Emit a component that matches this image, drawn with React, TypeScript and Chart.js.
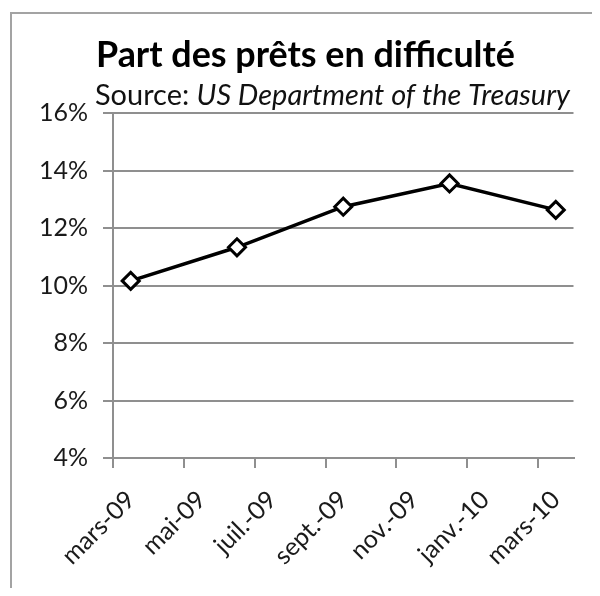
import React, { useEffect, useRef } from "react";
import { Chart, registerables } from "chart.js";

Chart.register(...registerables);

const titleText = "Part des prêts en difficulté";
const sourceLabel = "Source: ";
const sourceName = "US Department of the Treasury";

// monthly category slots on the date axis
const months = [
  "mars-09", "avr.-09", "mai-09", "juin-09", "juil.-09", "août-09", "sept.-09",
  "oct.-09", "nov.-09", "déc.-09", "janv.-10", "févr.-10", "mars-10",
];
// observation months and values (%)
const obsMonths = ["mars-09", "juin-09", "sept.-09", "déc.-09", "mars-10"];
const obsValues = [10.16, 11.33, 12.74, 13.55, 12.63];

const yTicks = [4, 6, 8, 10, 12, 14, 16];

const GRID = "#8f8f8f";
const FONT = "Lato";

const titlePlugin = {
  id: "titleBlock",
  afterDraw(chart: any) {
    const ctx = chart.ctx as CanvasRenderingContext2D;
    ctx.save();
    ctx.fillStyle = "#000";
    ctx.textBaseline = "alphabetic";
    ctx.textAlign = "left";
    // title, fitted to its width in the reference
    ctx.font = `bold 100px ${FONT}`;
    const tw = ctx.measureText(titleText).width;
    const ts = (100 * 419) / tw;
    ctx.font = `bold ${ts}px ${FONT}`;
    ctx.fillText(titleText, 96, 67);
    // subtitle
    ctx.font = `100px ${FONT}`;
    const w1 = ctx.measureText(sourceLabel).width;
    ctx.font = `italic 100px ${FONT}`;
    const w2 = ctx.measureText(sourceName).width;
    const ss = (100 * 475) / (w1 + w2);
    ctx.font = `${ss}px ${FONT}`;
    ctx.fillStyle = "#111";
    ctx.fillText(sourceLabel, 95, 105);
    const a = ctx.measureText(sourceLabel).width;
    ctx.font = `italic ${ss}px ${FONT}`;
    ctx.fillText(sourceName, 95 + a, 105);
    ctx.restore();
  },
};

export default function App() {
  const ref = useRef<HTMLCanvasElement>(null);
  useEffect(() => {
    if (!ref.current) return;
    const chart = new Chart(ref.current, {
      type: "line",
      data: {
        labels: months,
        datasets: [
          {
            data: obsMonths.map((m, i) => ({ x: m, y: obsValues[i] })) as any,
            borderColor: "#000",
            borderWidth: 3.5,
            backgroundColor: "#fff",
            pointStyle: "rectRot",
            pointRadius: 8.5,
            pointBorderWidth: 3,
            pointBorderColor: "#000",
            pointBackgroundColor: "#fff",
            tension: 0,
            spanGaps: true,
          },
        ],
      },
      options: {
        animation: false,
        responsive: false,
        devicePixelRatio: 1,
        layout: { padding: { top: 113, left: 0, right: 26.5, bottom: 0 } },
        plugins: {
          legend: { display: false },
          title: { display: false },
          tooltip: { enabled: false },
        },
        scales: {
          x: {
            type: "category",
            offset: true,
            afterFit(scale: any) {
              scale.height = 138;
            },
            grid: {
              display: true,
              offset: true,
              drawOnChartArea: false,
              drawTicks: true,
              tickLength: 10,
              lineWidth: 2,
              tickColor: (c: any) => (c.index % 2 === 0 && c.index <= 12 ? GRID : "rgba(0,0,0,0)"),
              color: GRID,
            },
            border: { display: true, color: GRID, width: 2 },
            ticks: {
              autoSkip: false,
              maxRotation: 45,
              minRotation: 45,
              padding: 17,
              color: "#1a1a1a",
              font: { family: FONT, size: 25 },
              callback: (_v: any, i: number) => (i % 2 === 0 ? months[i] : ""),
            },
          },
          y: {
            min: 4,
            max: 16,
            afterFit(scale: any) {
              scale.width = 113;
            },
            afterBuildTicks(scale: any) {
              scale.ticks = yTicks.map((v) => ({ value: v }));
            },
            grid: {
              color: GRID,
              lineWidth: 2,
              tickLength: 10,
              drawTicks: true,
            },
            border: { display: true, color: GRID, width: 2 },
            ticks: {
              padding: 15,
              color: "#1a1a1a",
              font: { family: FONT, size: 25 },
              callback: (v: any) => `${v}%`,
            },
          },
        },
      },
      plugins: [titlePlugin],
    });
    return () => chart.destroy();
  }, []);

  return (
    <div style={{ position: "relative", width: 600, height: 596, margin: -8, overflow: "hidden", background: "#fff" }}>
      <div
        style={{
          position: "absolute",
          left: 10,
          top: 12,
          width: 700,
          height: 700,
          border: "2px solid #a3a3a3",
          boxSizing: "border-box",
        }}
      />
      <canvas ref={ref} width={600} height={596} style={{ position: "absolute", left: 0, top: 0 }} />
    </div>
  );
}
